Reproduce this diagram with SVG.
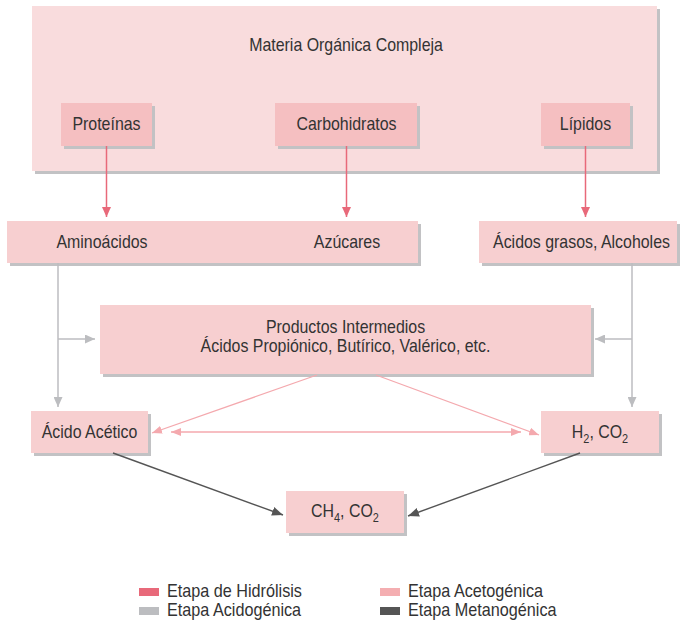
<svg xmlns="http://www.w3.org/2000/svg" width="681" height="622" viewBox="0 0 681 622">
<defs>
<style>
text{font-family:"Liberation Sans",Arial,sans-serif;font-size:17.5px;fill:#333;text-anchor:middle;transform-box:fill-box;transform-origin:50% 50%;transform:scaleX(0.91)}
.sh{fill:#c2c2c4}
.outer{fill:#f9dcdd}
.top{fill:#f5bfc1}
.box{fill:#f7cfd0}
.sub{font-size:12px}
text.leg{font-size:18px;text-anchor:start;transform-origin:0% 50%;transform:scaleX(0.9)}
.hid{stroke:#e8697a;stroke-width:1.5;fill:none}
.aci{stroke:#bcbdc0;stroke-width:1.5;fill:none}
.ace{stroke:#f4a9ae;stroke-width:1.3;fill:none}
.met{stroke:#555;stroke-width:1.4;fill:none}
</style>
<marker id="mH" markerUnits="userSpaceOnUse" markerWidth="10" markerHeight="9" refX="10" refY="4.5" orient="auto" viewBox="0 0 10 9"><path d="M0,0 L10,4.5 L0,9 z" fill="#e8697a"/></marker>
<marker id="mA" markerUnits="userSpaceOnUse" markerWidth="10" markerHeight="9" refX="10" refY="4.5" orient="auto" viewBox="0 0 10 9"><path d="M0,0 L10,4.5 L0,9 z" fill="#bcbdc0"/></marker>
<marker id="mC" markerUnits="userSpaceOnUse" markerWidth="10" markerHeight="8" refX="10" refY="4" orient="auto-start-reverse" viewBox="0 0 10 8"><path d="M0,0 L10,4 L0,8 z" fill="#f4a9ae"/></marker>
<marker id="mM" markerUnits="userSpaceOnUse" markerWidth="11" markerHeight="9" refX="11" refY="4.5" orient="auto" viewBox="0 0 11 9"><path d="M0,0 L11,4.5 L0,9 z" fill="#555"/></marker>
</defs>

<g id="materia">
<rect class="sh" x="35" y="9" width="625" height="165"/>
<rect class="outer" x="32" y="6" width="625" height="165"/>
<text x="346" y="51">Materia Orgánica Compleja</text>
</g>
<g id="proteinas">
<rect class="sh" x="64" y="106" width="91" height="43"/>
<rect class="top" x="61" y="103" width="91" height="43"/>
<text x="106.5" y="130">Proteínas</text>
</g>
<g id="carbohidratos">
<rect class="sh" x="278" y="106" width="142" height="43"/>
<rect class="top" x="275" y="103" width="142" height="43"/>
<text x="346.5" y="130">Carbohidratos</text>
</g>
<g id="lipidos">
<rect class="sh" x="544" y="106" width="89" height="43"/>
<rect class="top" x="541" y="103" width="89" height="43"/>
<text x="585.5" y="130">Lípidos</text>
</g>
<g id="aminoacidos-azucares">
<rect class="sh" x="10" y="224" width="411" height="42"/>
<rect class="box" x="7" y="221" width="411" height="42"/>
<text x="102" y="248">Aminoácidos</text>
<text x="347" y="248">Azúcares</text>
</g>
<g id="acidos-grasos">
<rect class="sh" x="482" y="224" width="198" height="42"/>
<rect class="box" x="479" y="221" width="198" height="42"/>
<text x="581.5" y="248">Ácidos grasos, Alcoholes</text>
</g>
<g id="productos">
<rect class="sh" x="103" y="308" width="491" height="69"/>
<rect class="box" x="100" y="305" width="491" height="69"/>
<text x="345.5" y="333">Productos Intermedios</text>
<text x="345.5" y="352">Ácidos Propiónico, Butírico, Valérico, etc.</text>
</g>
<g id="acido-acetico">
<rect class="sh" x="34" y="414" width="117" height="42"/>
<rect class="box" x="31" y="411" width="117" height="42"/>
<text x="89.5" y="438">Ácido Acético</text>
</g>
<g id="h2-co2">
<rect class="sh" x="544" y="414" width="118" height="42"/>
<rect class="box" x="541" y="411" width="118" height="42"/>
<text x="600" y="438">H<tspan class="sub" dy="5">2</tspan><tspan dy="-5">, CO</tspan><tspan class="sub" dy="5">2</tspan></text>
</g>
<g id="ch4-co2">
<rect class="sh" x="289" y="494" width="118" height="42"/>
<rect class="box" x="286" y="491" width="118" height="42"/>
<text x="345" y="517">CH<tspan class="sub" dy="5">4</tspan><tspan dy="-5">, CO</tspan><tspan class="sub" dy="5">2</tspan></text>
</g>

<g id="connectors">
<path class="hid" d="M106.5,146 V217" marker-end="url(#mH)"/>
<path class="hid" d="M346.5,146 V217" marker-end="url(#mH)"/>
<path class="hid" d="M585.5,146 V217" marker-end="url(#mH)"/>
<path class="aci" d="M58,263 V407" marker-end="url(#mA)"/>
<path class="aci" d="M58,339 H95" marker-end="url(#mA)"/>
<path class="aci" d="M632,263 V407" marker-end="url(#mA)"/>
<path class="aci" d="M632,339 H595" marker-end="url(#mA)"/>
<path class="ace" d="M317,375 L152,433" marker-end="url(#mC)"/>
<path class="ace" d="M376,375 L539,435" marker-end="url(#mC)"/>
<path class="ace" d="M171,432 H521" marker-start="url(#mC)" marker-end="url(#mC)"/>
<path class="met" d="M113,453 L283,515" marker-end="url(#mM)"/>
<path class="met" d="M580,453 L408,516" marker-end="url(#mM)"/>
</g>

<g id="legend">
<rect x="139" y="588" width="20" height="8" fill="#e8697a"/>
<text class="leg" x="167" y="597">Etapa de Hidrólisis</text>
<rect x="139" y="607" width="20" height="8" fill="#bcbdc0"/>
<text class="leg" x="167" y="616">Etapa Acidogénica</text>
<rect x="380" y="588" width="20" height="8" fill="#f4aeb1"/>
<text class="leg" x="408" y="597">Etapa Acetogénica</text>
<rect x="380" y="607" width="20" height="8" fill="#555"/>
<text class="leg" x="408" y="616">Etapa Metanogénica</text>
</g>
</svg>
